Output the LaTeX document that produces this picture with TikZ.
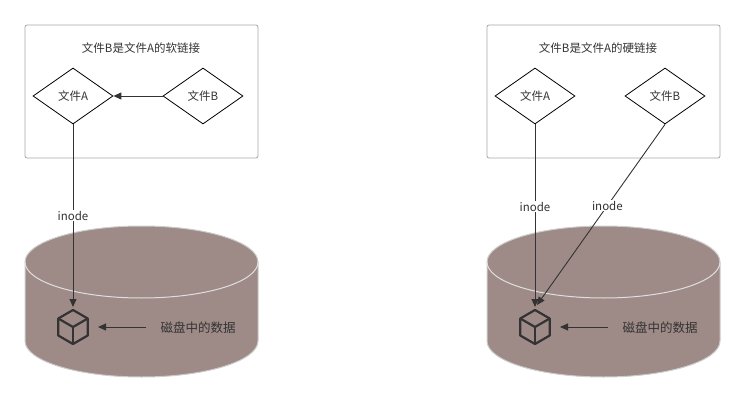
\documentclass[tikz,border=0pt]{standalone}
\usepackage{fontspec}
\setmainfont{Noto Sans CJK SC}
\usetikzlibrary{shapes.geometric,arrows.meta}
\definecolor{disk}{HTML}{9E8B87}
\definecolor{ink}{HTML}{333333}
\tikzset{
 box/.style={draw=gray!70,rounded corners=2pt,line width=0.8pt},
 dia/.style={diamond,draw=black,line width=0.8pt,minimum width=80pt,minimum height=56pt,inner sep=0pt,font=\fontsize{11.5}{13}\selectfont,text=ink,aspect=1.43},
 lbl/.style={font=\fontsize{11.5}{13}\selectfont,text=ink},
 con/.style={draw=ink,line width=0.9pt},
 arr/.style={con,-{Triangle[length=8pt,width=7pt]}},
}
\newcommand{\mycyl}[1]{%
 \fill[disk,draw=gray!40,line width=1pt] (#1+25,262) -- (#1+25,341) arc[start angle=180,end angle=0,x radius=116.5,y radius=36] -- (#1+258,262) arc[start angle=0,end angle=-180,x radius=116.5,y radius=36] -- cycle;
 \draw[gray!25,line width=1pt] (#1+25,262) arc[start angle=180,end angle=0,x radius=116.5,y radius=36];}
\newcommand{\mycube}[2]{%
 \begin{scope}[shift={(#1,#2)},draw=ink,line width=2.2pt,line join=round]
 \draw (90:17) -- (30:17) -- (-30:17) -- (-90:17) -- (-150:17) -- (150:17) -- cycle;
 \draw (-150:17) -- (0,0) -- (-30:17); \draw (0,0) -- (90:17);
 \end{scope}}
\begin{document}
\begin{tikzpicture}[x=1pt,y=-1pt]
\useasboundingbox (0,0) rectangle (745,404);
% left
\draw[box] (25,25) rectangle (258,158);
\node[lbl] (t1) at (141,48) {文件B是文件A的软链接};
\node[dia] (a1) at (73,96) {文件A};
\node[dia] (b1) at (203,96) {文件B};
\mycyl{0}
\mycube{73}{327}
\coordinate (c1) at (73,307);
\draw[arr] (b1) -- (a1);
\draw[arr] (a1.south) -- node[fill=white,lbl,inner sep=1pt] {inode} (c1);
\coordinate (s1) at (146,327); \coordinate (e1) at (98,327);
\draw[arr] (s1) -- (e1);
\node[lbl,font=\fontsize{12.5}{14}\selectfont] (d1) at (198,328) {磁盘中的数据};
% right
\draw[box] (487,25) rectangle (720,158);
\node[lbl] (t2) at (598,48) {文件B是文件A的硬链接};
\node[dia] (a2) at (535,96) {文件A};
\node[dia] (b2) at (665,96) {文件B};
\mycyl{462}
\mycube{535}{327}
\coordinate (c2) at (535,307);
\coordinate (c3) at (537,305);
\draw[arr] (a2.south) -- node[pos=0.45,fill=white,lbl,inner sep=1pt] {inode} (c2);
\draw[arr] (b2.south) -- node[pos=0.45,fill=white,lbl,inner sep=1pt] {inode} (c3);
\coordinate (s2) at (608,327); \coordinate (e2) at (560,327);
\draw[arr] (s2) -- (e2);
\node[lbl,font=\fontsize{12.5}{14}\selectfont] (d2) at (660,328) {磁盘中的数据};
\end{tikzpicture}
\end{document}
